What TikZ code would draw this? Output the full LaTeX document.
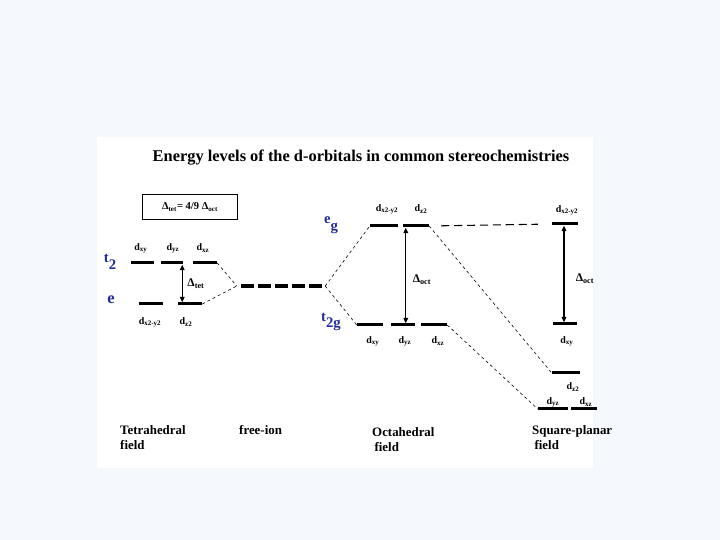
\documentclass[tikz,border=0pt]{standalone}
\usepackage{fontspec}
\setmainfont{Liberation Serif}
\usetikzlibrary{arrows.meta,positioning}
\definecolor{pageBlue}{HTML}{F5F8FD}
\definecolor{labelBlue}{HTML}{1F2C9A}
\newcommand{\dorb}[1]{d\textsubscript{#1}}
\newcommand{\lowsub}[2]{#1\raisebox{-0.45em}{#2}}

\begin{document}
\begin{tikzpicture}[x=0.03cm,y=-0.03cm,
  lvl/.style={fill=black,inner sep=0pt,minimum height=0.09cm,minimum width=#1},
  lvl/.default=0.75cm,
  orb/.style={font=\bfseries\fontsize{8.5}{9}\selectfont,inner sep=0.5pt},
  sym/.style={font=\bfseries\fontsize{12.5}{12}\selectfont,text=labelBlue,inner sep=0pt},
  field/.style={font=\bfseries\fontsize{11}{13}\selectfont,align=left,anchor=north west,inner sep=0pt},
  split/.style={{Triangle[length=1.6mm,width=1.4mm]}-{Triangle[length=1.6mm,width=1.4mm]},line width=1pt},
  corr/.style={line width=0.5pt,dash pattern=on 2.5pt off 2.5pt},
  freeion/.style={line width=2.6pt,dash pattern=on 11pt off 3.6pt},
  same/.style={line width=0.9pt,dash pattern=on 7pt off 4pt}]

\useasboundingbox (0,0) rectangle (720,540);
\fill[pageBlue] (0,0) rectangle (720,540);
\fill[white] (97,137) rectangle (593,468);

\node[font=\bfseries\fontsize{14}{16}\selectfont] (title) at (361,158) {Energy levels of the d-orbitals in common stereochemistries};

\node[draw,line width=0.9pt,minimum width=2.85cm,minimum height=0.75cm,font=\bfseries\fontsize{9}{10}\selectfont] (ratio) at (190,207) {Δ\textsubscript{tet}= 4/9 Δ\textsubscript{oct}};

\node[lvl=0.69cm] (txy) at (142,263) {};
\node[lvl=0.66cm] (tyz) at (172,263) {};
\node[lvl=0.72cm] (txz) at (205,263) {};
\node[lvl=0.72cm] (ex2) at (151,304) {};
\node[lvl=0.72cm] (ez2) at (190,304) {};
\node[sym] (tlab) at (110,262) {\lowsub{t}{2}};
\node[sym,font=\bfseries\fontsize{14}{14}\selectfont] (elab) at (111,300) {e};
\node[orb] at (141,248) {\dorb{xy}};
\node[orb] at (173,248) {\dorb{yz}};
\node[orb] at (203,248) {\dorb{xz}};
\node[orb] at (150,322) {\dorb{x2-y2}};
\node[orb] at (186,322) {\dorb{z2}};
\draw[split] ([xshift=-0.03cm]tyz.south east) -- ([xshift=-0.03cm]tyz.south east |- ez2.north);
\node[orb,font=\bfseries\fontsize{10}{10}\selectfont] at (196,284) {Δ\textsubscript{tet}};

\node[minimum width=2.64cm,inner sep=0pt] (free) at (281,286) {};
\draw[freeion] ([xshift=0.12cm]free.west) -- ([xshift=-0.09cm]free.east);

\node[lvl=0.84cm] (ox2) at (384,226) {};
\node[lvl=0.78cm] (oz2) at (416,226) {};
\node[lvl=0.78cm] (oxy) at (370,325) {};
\node[lvl=0.72cm] (oyz) at (403,325) {};
\node[lvl=0.78cm] (oxz) at (434,325) {};
\node[sym] (eglab) at (331,225) {\lowsub{e}{g}};
\node[sym] (tglab) at (331,322) {\lowsub{t}{2g}};
\node[orb] at (387,209) {\dorb{x2-y2}};
\node[orb] at (421,209) {\dorb{z2}};
\node[orb] at (373,341) {\dorb{xy}};
\node[orb] at (405,341) {\dorb{yz}};
\node[orb] at (438,341) {\dorb{xz}};
\draw[split] ([xshift=0.09cm]oz2.south west) -- ([xshift=0.09cm]oz2.south west |- oyz.north);
\node[orb,font=\bfseries\fontsize{10}{10}\selectfont] at (422,280) {Δ\textsubscript{oct}};

\node[lvl=0.78cm] (sx2) at (565,224) {};
\node[lvl=0.72cm] (sxy) at (565,324) {};
\node[lvl=0.84cm] (sz2) at (566,373) {};
\node[lvl=0.90cm] (syz) at (553,409) {};
\node[lvl=0.78cm] (sxz) at (584,409) {};
\node[orb] at (567,210) {\dorb{x2-y2}};
\node[orb] at (567,341) {\dorb{xy}};
\node[orb] at (573,387) {\dorb{z2}};
\node[orb] at (553,402) {\dorb{yz}};
\node[orb] at (586,402) {\dorb{xz}};
\draw[split] ([xshift=-0.03cm]sx2.south) -- ([xshift=-0.03cm]sx2.south |- sxy.north);
\node[orb,font=\bfseries\fontsize{10}{10}\selectfont] at (585,279) {Δ\textsubscript{oct}};

\draw[corr] (txz.east) -- (free.west);
\draw[corr] (ez2.east) -- (free.west);
\draw[corr] (free.east) -- (ox2.west);
\draw[corr] (free.east) -- (oxy.west);
\draw[same,shorten <=0.36cm,shorten >=0.42cm] (oz2.east) -- (sx2.west);
\draw[corr] (oz2.east) -- (sz2.west);
\draw[corr] (oxz.east) -- (syz.west);

\node[field] at (120,425) {Tetrahedral\\field};
\node[field] at (239,425) {free-ion};
\node[field] at (372,427) {Octahedral\\\hspace*{2pt}field};
\node[field] at (532,425) {Square-planar\\\hspace*{2pt}field};
\end{tikzpicture}
\end{document}
